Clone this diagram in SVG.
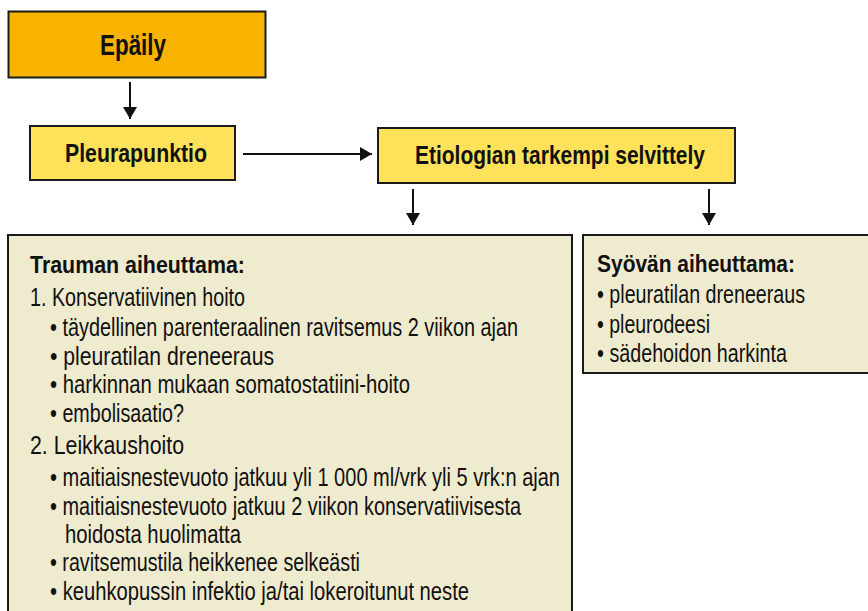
<svg xmlns="http://www.w3.org/2000/svg" width="868" height="611" viewBox="0 0 868 611">
<style>
.box{stroke:#1a1a1a;stroke-width:2}
.t{font-family:"Liberation Sans",Arial,sans-serif;fill:#111}
.b{font-weight:bold}
.n{font-size:25px}
.conn{stroke:#111;stroke-width:2;fill:none}
</style>
<defs>
<marker id="ah" markerUnits="userSpaceOnUse" markerWidth="14" markerHeight="14" refX="12" refY="7" orient="auto">
<path d="M0,0 L12,7 L0,14 z" fill="#111"/>
</marker>
</defs>
<rect width="868" height="611" fill="#fff"/>
<g id="connectors">
<line class="conn" x1="130" y1="82" x2="130" y2="119" marker-end="url(#ah)"/>
<line class="conn" x1="243" y1="154" x2="372" y2="154" marker-end="url(#ah)"/>
<line class="conn" x1="413" y1="189" x2="413" y2="225" marker-end="url(#ah)"/>
<line class="conn" x1="709" y1="189" x2="709" y2="225" marker-end="url(#ah)"/>
</g>
<g id="epaily">
<rect class="box" x="8.5" y="11.5" width="257" height="66" fill="#F8B200" stroke-width="3"/>
<text class="t b" x="100" y="55" font-size="30" textLength="66" lengthAdjust="spacingAndGlyphs">Epäily</text>
</g>
<g id="pleurapunktio">
<rect class="box" x="30" y="126" width="205" height="54" fill="#FFE15A"/>
<text class="t b" x="65" y="162" font-size="25" textLength="142" lengthAdjust="spacingAndGlyphs">Pleurapunktio</text>
</g>
<g id="etiologia">
<rect class="box" x="378" y="128" width="357" height="55" fill="#FFE15A"/>
<text class="t b" x="415" y="164" font-size="25" textLength="290" lengthAdjust="spacingAndGlyphs">Etiologian tarkempi selvittely</text>
</g>
<g id="trauma">
<rect class="box" x="8" y="235" width="564" height="390" fill="#EFEBCE"/>
<text class="t b" x="30" y="273" font-size="24" textLength="215" lengthAdjust="spacingAndGlyphs">Trauman aiheuttama:</text>
<text class="t n" x="30" y="306" textLength="215" lengthAdjust="spacingAndGlyphs">1. Konservatiivinen hoito</text>
<text class="t n" x="50" y="336" textLength="468" lengthAdjust="spacingAndGlyphs">• täydellinen parenteraalinen ravitsemus 2 viikon ajan</text>
<text class="t n" x="50" y="365" textLength="224" lengthAdjust="spacingAndGlyphs">• pleuratilan dreneeraus</text>
<text class="t n" x="50" y="393" textLength="360" lengthAdjust="spacingAndGlyphs">• harkinnan mukaan somatostatiini-hoito</text>
<text class="t n" x="50" y="422" textLength="134" lengthAdjust="spacingAndGlyphs">• embolisaatio?</text>
<text class="t n" x="30" y="454" textLength="154" lengthAdjust="spacingAndGlyphs">2. Leikkaushoito</text>
<text class="t n" x="50" y="486" textLength="510" lengthAdjust="spacingAndGlyphs">• maitiaisnestevuoto jatkuu yli 1 000 ml/vrk yli 5 vrk:n ajan</text>
<text class="t n" x="50" y="515" textLength="471" lengthAdjust="spacingAndGlyphs">• maitiaisnestevuoto jatkuu 2 viikon konservatiivisesta</text>
<text class="t n" x="65" y="543" textLength="176" lengthAdjust="spacingAndGlyphs">hoidosta huolimatta</text>
<text class="t n" x="50" y="571" textLength="310" lengthAdjust="spacingAndGlyphs">• ravitsemustila heikkenee selkeästi</text>
<text class="t n" x="50" y="600" textLength="419" lengthAdjust="spacingAndGlyphs">• keuhkopussin infektio ja/tai lokeroitunut neste</text>
</g>
<g id="syopa">
<rect class="box" x="583" y="235" width="300" height="138" fill="#EFEBCE"/>
<text class="t b" x="597" y="272" font-size="24" textLength="198" lengthAdjust="spacingAndGlyphs">Syövän aiheuttama:</text>
<text class="t n" x="597" y="303" textLength="208" lengthAdjust="spacingAndGlyphs">• pleuratilan dreneeraus</text>
<text class="t n" x="597" y="333" textLength="113" lengthAdjust="spacingAndGlyphs">• pleurodeesi</text>
<text class="t n" x="597" y="362" textLength="190" lengthAdjust="spacingAndGlyphs">• sädehoidon harkinta</text>
</g>
</svg>
